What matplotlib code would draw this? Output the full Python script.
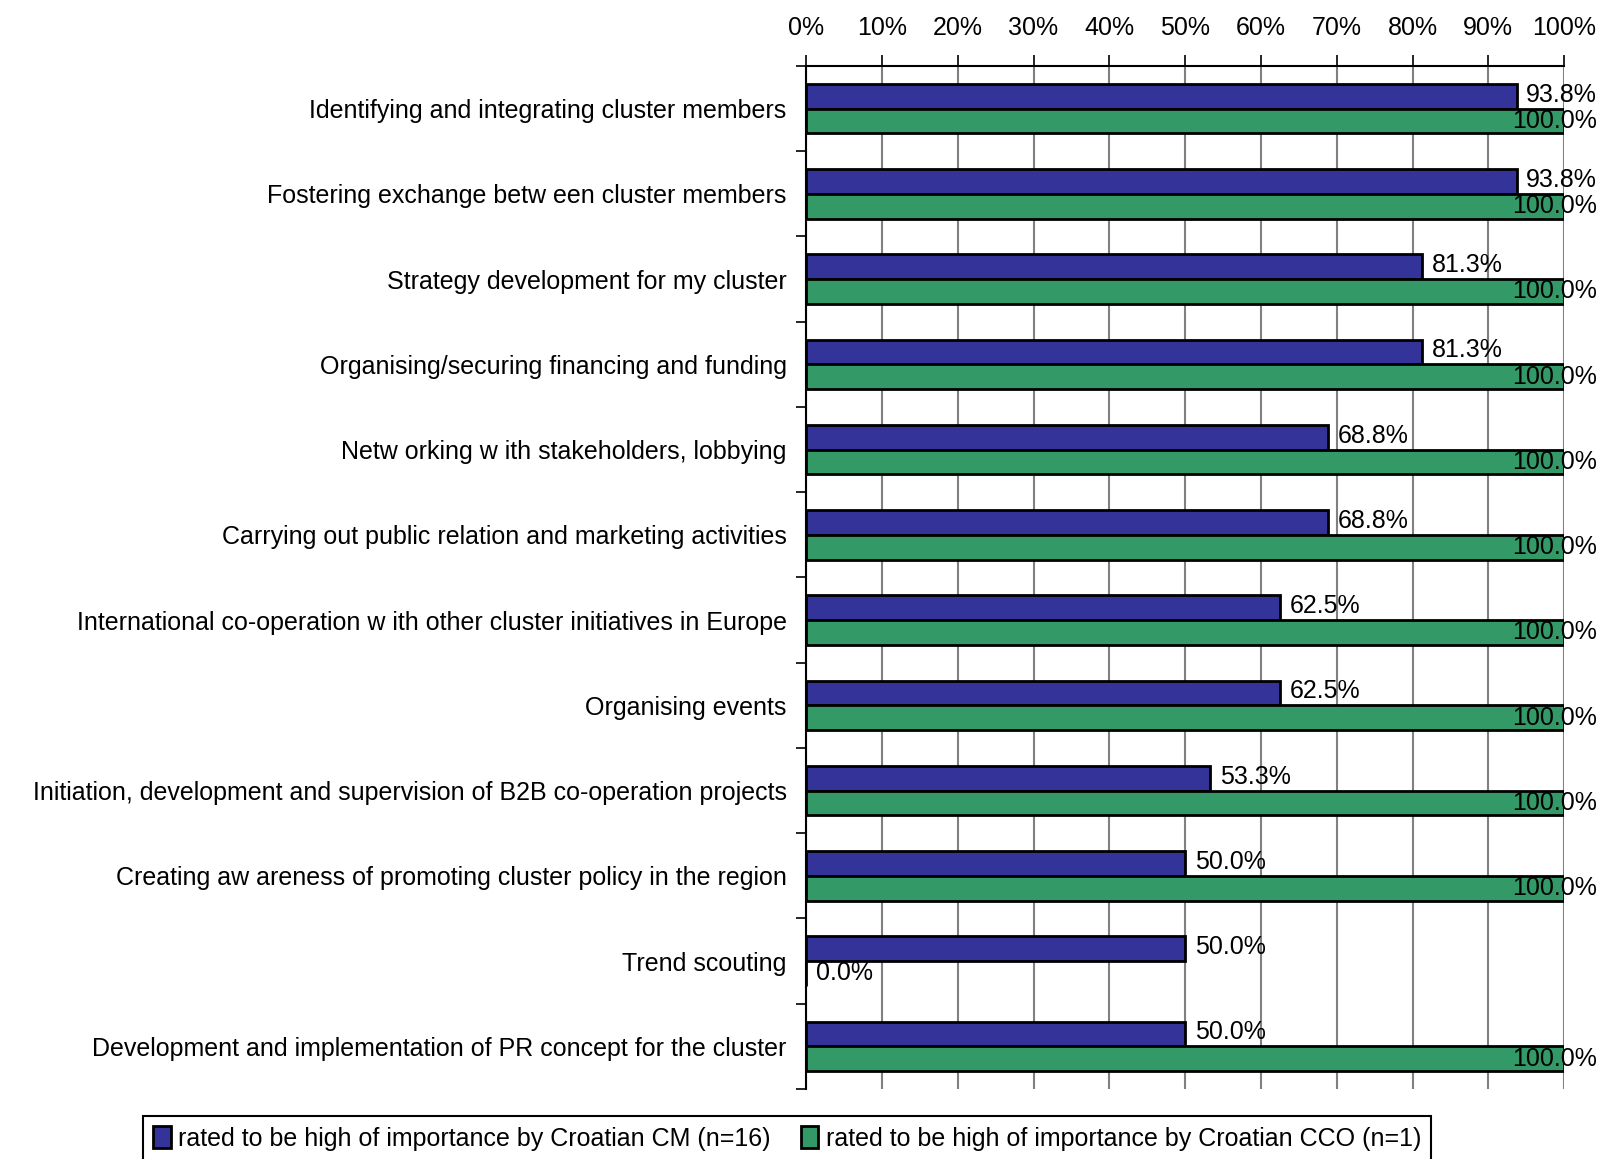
import matplotlib.pyplot as plt
import numpy as np
from matplotlib.ticker import FixedLocator, PercentFormatter

plt.rcParams['font.family'] = ['Liberation Sans', 'DejaVu Sans']

# Activities, top to bottom
activities = [
    'Identifying and integrating cluster members',
    'Fostering exchange betw een cluster members',
    'Strategy development for my cluster',
    'Organising/securing financing and funding',
    'Netw orking w ith stakeholders, lobbying',
    'Carrying out public relation and marketing activities',
    'International co-operation w ith other cluster initiatives in Europe',
    'Organising events',
    'Initiation, development and supervision of B2B co-operation projects',
    'Creating aw areness of promoting cluster policy in the region',
    'Trend scouting',
    'Development and implementation of PR concept for the cluster',
]
cm_share = [93.8, 93.8, 81.3, 81.3, 68.8, 68.8, 62.5, 62.5, 53.3, 50.0, 50.0, 50.0]
cco_share = [100.0, 100.0, 100.0, 100.0, 100.0, 100.0, 100.0, 100.0, 100.0, 100.0, 0.0, 100.0]
series_names = ['rated to be high of importance by Croatian CM (n=16)',
                'rated to be high of importance by Croatian CCO (n=1)']
colors = ['#333399', '#339966']

fs = 18
fig = plt.figure(figsize=(16, 11.59), dpi=100)
ax = fig.add_axes([0.5038, 0.0604, 0.4738, 0.8827])

y = np.arange(len(activities))
h = 0.29
b1 = ax.barh(y - h / 2, cm_share, height=h, color=colors[0], edgecolor='black',
             linewidth=2, label=series_names[0], zorder=3)
b2 = ax.barh(y + h / 2, cco_share, height=h, color=colors[1], edgecolor='black',
             linewidth=2, label=series_names[1], zorder=3)

ax.set_xlim(0, 100)
ax.set_ylim(len(activities) - 0.5, -0.5)

# x axis on top, percent ticks
ax.xaxis.tick_top()
ax.set_xticks(np.arange(0, 101, 10))
ax.xaxis.set_major_formatter(PercentFormatter(decimals=0))
ax.tick_params(axis='x', which='major', length=8, width=1.2, pad=11, labelsize=fs,
               color='black')
ax.grid(axis='x', color='#808080', linewidth=1.5, zorder=0)

# category labels between boundary ticks
ax.set_yticks(y)
ax.set_yticklabels(activities, fontsize=fs)
ax.tick_params(axis='y', which='major', length=0, pad=14)
ax.yaxis.set_minor_locator(FixedLocator(np.arange(-0.5, len(activities) + 0.5, 1)))
ax.tick_params(axis='y', which='minor', length=7, width=1.2)

for side in ['right', 'bottom']:
    ax.spines[side].set_visible(False)
ax.spines['top'].set_linewidth(1.5)
ax.spines['left'].set_linewidth(1.5)

# value labels, pulled back inside when they run past the right edge
fig.canvas.draw()
renderer = fig.canvas.get_renderer()
edge_px = 1597
for bars, vals, dy in [(b1, cm_share, -0.02), (b2, cco_share, 0.0)]:
    for bar, v in zip(bars, vals):
        yc = bar.get_y() + bar.get_height() / 2 + dy
        t = ax.text(v + 1.3, yc, f'{v:.1f}%', fontsize=fs, va='center', ha='left',
                    zorder=5, clip_on=False)
        bb = t.get_window_extent(renderer)
        if bb.x1 > edge_px:
            x_data = ax.transData.inverted().transform((edge_px, 0))[0]
            t.set_x(x_data)
            t.set_ha('right')

leg = fig.legend(handles=[b1, b2], loc='upper left',
                 bbox_to_anchor=(143 / 1600, 1 - 1116 / 1159), ncol=2, fontsize=fs,
                 frameon=True, fancybox=False, edgecolor='black', framealpha=1,
                 handlelength=0.7, handleheight=1.0, handletextpad=0.3,
                 columnspacing=1.2, borderpad=0.4, borderaxespad=0)
leg.get_frame().set_linewidth(1.5)

fig.savefig('out.png', dpi=100)
